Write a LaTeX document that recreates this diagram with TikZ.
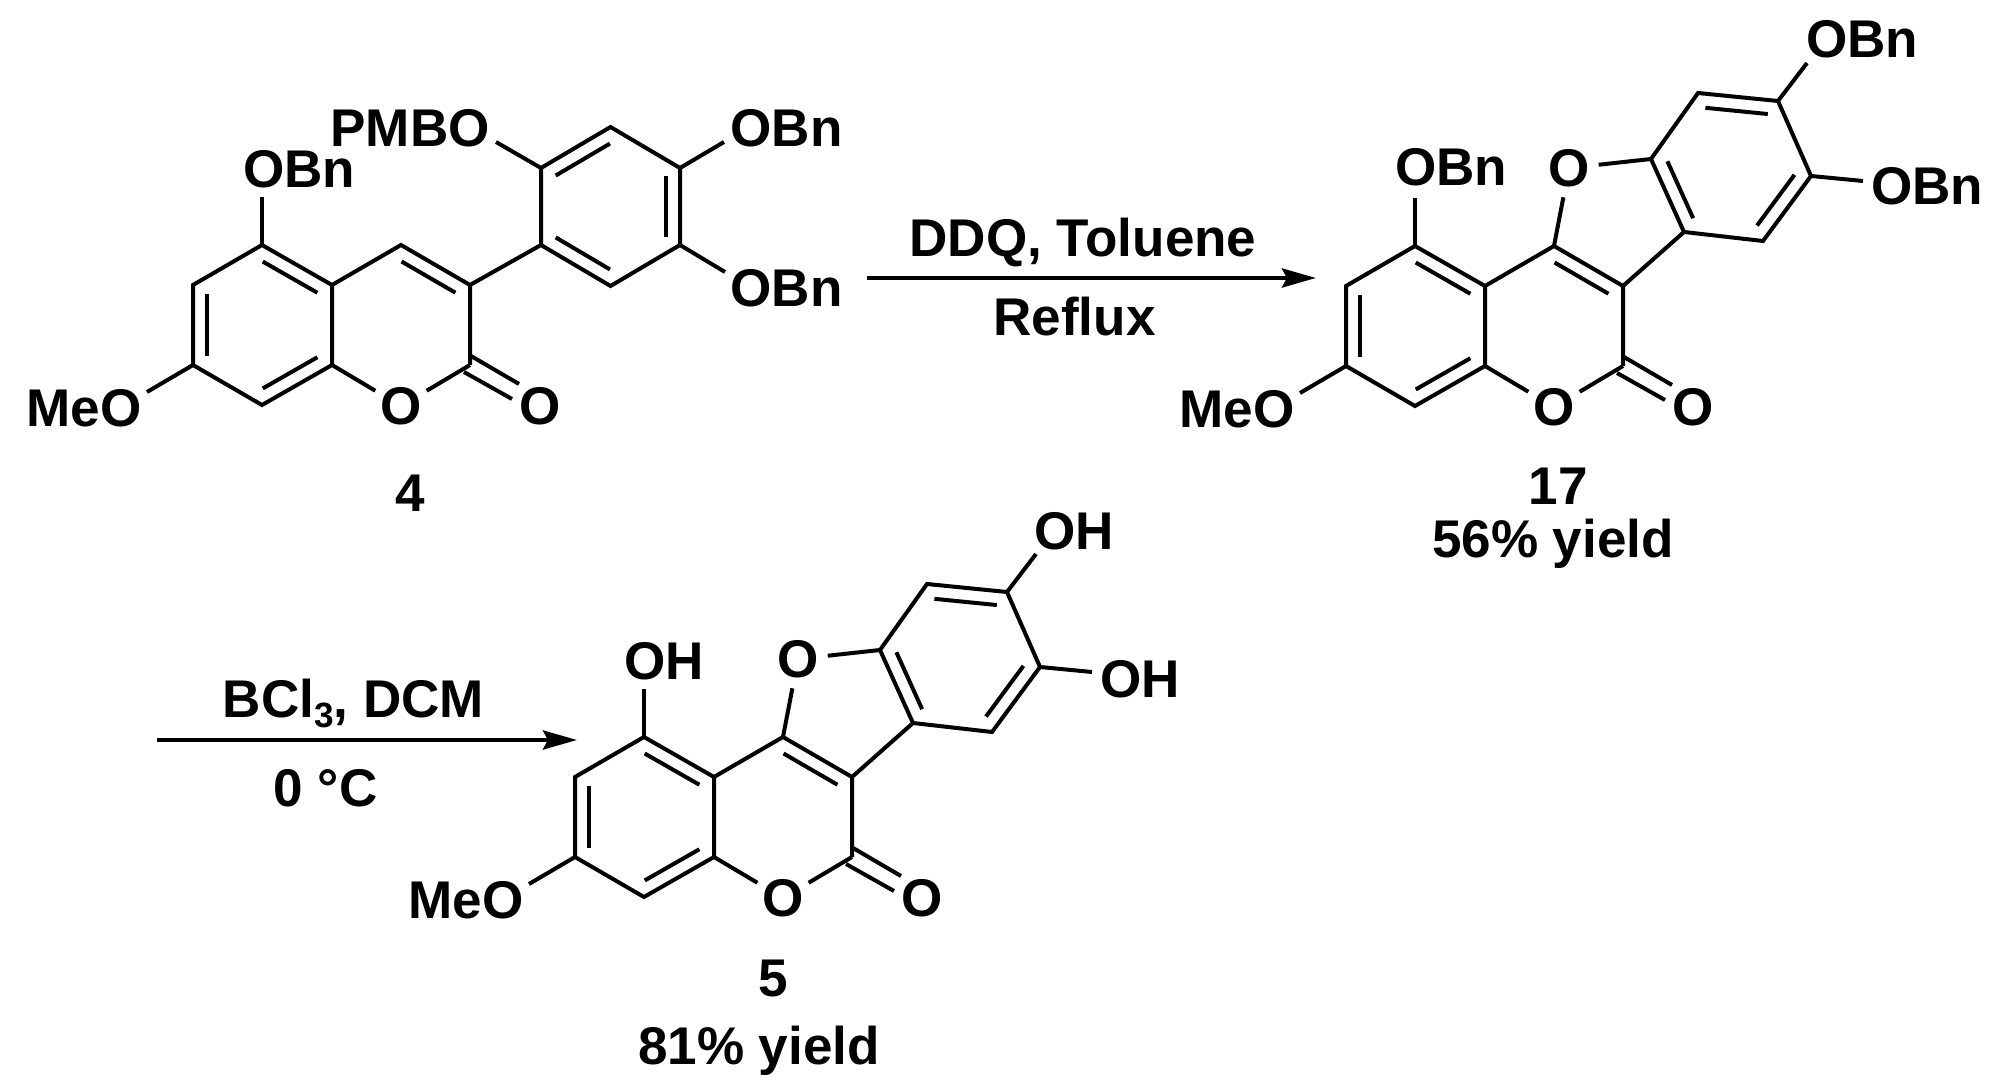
\documentclass[tikz,border=0pt]{standalone}
\usepackage{xcolor}
\usepackage{fontspec}
\setmainfont{Liberation Sans}
\usetikzlibrary{arrows.meta, positioning, calc}

% inner line of a double bond, the ring lies on the left of #1 -> #2
\newcommand{\innerbond}[2]{\draw[bond] ($(#1)!0.11!(#2)!0.28cm!90:(#2)$) -- ($(#2)!0.11!(#1)!0.28cm!-90:(#1)$);}

% coumarin core, origin on the carbon that carries the top substituent
\newcommand{\coumarincore}{
    \coordinate (ca) at (0,0);
    \coordinate (cb) at (70,40);
    \coordinate (cc) at (70,120);
    \coordinate (cd) at (0,160);
    \coordinate (ce) at (-69,120);
    \coordinate (cf) at (-69,40);
    \coordinate (cg) at (139,0);
    \coordinate (ch) at (208,40);
    \coordinate (ci) at (208,120);
    \coordinate (topend) at (0,-48);
    \coordinate (meoend) at (-115,147);
    \coordinate (coa) at (209,111);
    \coordinate (cob) at (257,139);
    \coordinate (coc) at (202,127);
    \coordinate (cod) at (250,154);
    \node[ringo] (oring) at (139,161) {O};
    \node[ringo] (ocarb) at (278,161) {O};
    \node[chemtext] (meo) at (-178,181) {MeO};
    \draw[bond] (ca) -- (cb) -- (cc) -- (cd) -- (ce) -- (cf) -- cycle;
    \draw[bond] (cb) -- (cg) -- (ch) -- (ci);
    \draw[bond] (cc) -- (oring);
    \draw[bond] (oring) -- (ci);
    \draw[bond] (coa) -- (cob);
    \draw[bond] (coc) -- (cod);
    \draw[bond] (ca) -- (topend);
    \draw[bond] (ce) -- (meoend);
    \innerbond{cb}{ca}
    \innerbond{cf}{ce}
    \innerbond{cd}{cc}
}

% fused benzofuran part of the two tetracycles
\newcommand{\benzofuran}{
    \node[ringo] (ofuran) at (154,-78) {O};
    \coordinate (sa) at (236,-87);
    \coordinate (sb) at (269,-14);
    \coordinate (sc) at (348,-5);
    \coordinate (sd) at (396,-70);
    \coordinate (se) at (363,-145);
    \coordinate (sf) at (283,-153);
    \coordinate (upend) at (392,-183);
    \coordinate (rightend) at (448,-65);
    \draw[bond] (sa) -- (sb) -- (sc) -- (sd) -- (se) -- (sf) -- cycle;
    \draw[bond] (ch) -- (sb);
    \draw[bond] (cg) -- (ofuran);
    \draw[bond] (ofuran) -- (sa);
    \draw[bond] (sd) -- (rightend);
    \draw[bond] (se) -- (upend);
    \innerbond{ch}{cg}
    \innerbond{sa}{sb}
    \innerbond{sc}{sd}
    \innerbond{se}{sf}
}

\begin{document}
\begin{tikzpicture}[
    x=0.02cm,
    y=-0.02cm,
    bond/.style={line width=0.08cm},
    chemtext/.style={inner sep=0pt, anchor=base, font=\bfseries\fontsize{30.2}{36}\selectfont},
    ringo/.style={circle, inner sep=0pt, minimum size=1.18cm, font=\bfseries\fontsize{30.2}{36}\selectfont},
    arrow/.style={-{Stealth[length=0.68cm, width=0.38cm, inset=0.1cm]}, line width=0.086cm}
]
    \useasboundingbox (0,0) rectangle (2016,1091);

    % compound 4
    \begin{scope}[shift={(262,245)}]
        \coumarincore
        \innerbond{ch}{cg}
    \end{scope}
    \coordinate (ra) at (541,245);
    \coordinate (rb) at (541,168);
    \coordinate (rc) at (610.5,127);
    \coordinate (rd) at (680,168);
    \coordinate (re) at (680,245);
    \coordinate (rf) at (610.5,286);
    \coordinate (pmboend) at (496,142);
    \coordinate (obnend) at (724,142);
    \coordinate (obnlow) at (725,272);
    \draw[bond] (ra) -- (rb) -- (rc) -- (rd) -- (re) -- (rf) -- cycle;
    \draw[bond] (ch) -- (ra);
    \draw[bond] (rb) -- (pmboend);
    \draw[bond] (rd) -- (obnend);
    \draw[bond] (re) -- (obnlow);
    \innerbond{rc}{rb}
    \innerbond{ra}{rf}
    \innerbond{re}{rd}
    \node[chemtext] (obntop) at (299,188) {OBn};
    \node[chemtext] (pmbo) at (410,147) {PMBO};
    \node[chemtext] (obna) at (786.5,147) {OBn};
    \node[chemtext] (obnb) at (786.5,307) {OBn};
    \node[chemtext] (cpdfour) at (410,511) {4};

    % compound 17
    \begin{scope}[shift={(1415,246)}]
        \coumarincore
        \benzofuran
    \end{scope}
    \node[chemtext] (obnc) at (1451,186) {OBn};
    \node[chemtext] (obnd) at (1862,58) {OBn};
    \node[chemtext] (obne) at (1927,205) {OBn};
    \node[chemtext] (cpdseventeen) at (1558,504) {17};
    \node[chemtext] (yieldone) at (1553,557) {56\% yield};

    % compound 5
    \begin{scope}[shift={(644,737)}]
        \coumarincore
        \benzofuran
    \end{scope}
    \node[chemtext] (oha) at (664.5,679) {OH};
    \node[chemtext] (ohb) at (1074.5,549.5) {OH};
    \node[chemtext] (ohc) at (1140,697) {OH};
    \node[chemtext] (cpdfive) at (773,996) {5};
    \node[chemtext] (yieldtwo) at (759,1064) {81\% yield};

    % reaction arrows
    \coordinate (arrowa) at (867,278);
    \coordinate (arrowb) at (1316,278);
    \coordinate (arrowc) at (157,740);
    \coordinate (arrowd) at (577,740);
    \draw[arrow] (arrowa) -- (arrowb);
    \draw[arrow] (arrowc) -- (arrowd);
    \node[chemtext] (ddq) at (1083,257) {DDQ, Toluene};
    \node[chemtext] (reflux) at (1074.5,336) {Reflux};
    \node[chemtext] (bcl) at (353.5,717) {BCl\raisebox{-6pt}{\fontsize{20}{20}\selectfont 3}, DCM};
    \node[chemtext] (temp) at (325.5,806) {0 °C};
\end{tikzpicture}
\end{document}
